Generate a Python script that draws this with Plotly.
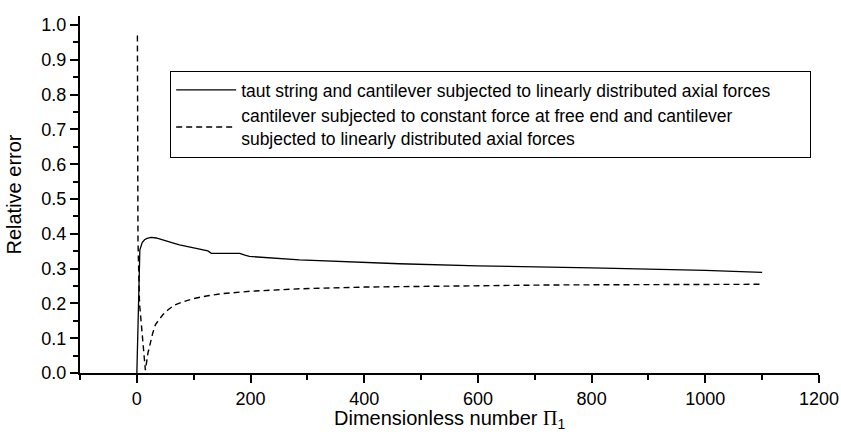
import plotly.graph_objects as go

# Solid curve: taut string vs cantilever (linearly distributed axial forces)
pi_solid = [0, 1, 1.8, 3.5, 5.3, 9.4, 13.5, 18, 25, 34, 46, 57, 63, 75, 87, 104, 119, 125,
            131, 181, 190, 198, 286, 400, 462, 600, 715, 800, 1000, 1100]
err_solid = [0.0, 0.08, 0.153, 0.297, 0.354, 0.375, 0.383, 0.387, 0.390, 0.388, 0.383, 0.378,
             0.374, 0.368, 0.364, 0.358, 0.352, 0.351, 0.344, 0.344, 0.339, 0.335, 0.325,
             0.317, 0.314, 0.308, 0.305, 0.302, 0.295, 0.289]

# Dashed curve: cantilever with constant end force vs linearly distributed axial forces
pi_dash = [1, 1.5, 2, 4.7, 10.5, 13.5, 15, 19.5, 24, 28, 33, 40, 46, 55, 66, 80, 100, 125,
           150, 200, 286, 400, 500, 600, 726, 900, 1100]
err_dash = [0.97, 0.60, 0.38, 0.20, 0.096, 0.02, 0.008, 0.057, 0.09, 0.115, 0.14, 0.157,
            0.168, 0.182, 0.195, 0.204, 0.214, 0.222, 0.228, 0.235, 0.242, 0.247, 0.249,
            0.251, 0.253, 0.254, 0.255]

name_solid = "taut string and cantilever subjected to linearly distributed axial forces" + "&nbsp;" * 7
name_dash = ("cantilever subjected to constant force at free end and cantilever<br>"
             "subjected to linearly distributed axial forces")
x_title = "Dimensionless number <span style='font-family:Liberation Serif'>Π</span><sub>1</sub>"
y_title = "Relative error"

FONT = "Liberation Sans, Arial, sans-serif"

fig = go.Figure()
fig.add_trace(go.Scatter(x=pi_solid, y=err_solid, mode="lines", name=name_solid,
                         line=dict(color="black", width=1.3)))
fig.add_trace(go.Scatter(x=pi_dash, y=err_dash, mode="lines", name=name_dash,
                         line=dict(color="black", width=1.4, dash="6px,4px")))

axis_common = dict(
    showline=True, linecolor="black", linewidth=2,
    ticks="outside", ticklen=8, tickwidth=2, tickcolor="black",
    showgrid=False, zeroline=False, mirror=False, automargin=False,
    tickfont=dict(family=FONT, size=18, color="black"),
)

fig.update_xaxes(
    range=[-100, 1200], tick0=0, dtick=200,
    minor=dict(dtick=100, ticks="outside", ticklen=5, tickwidth=2, tickcolor="black"),
    **axis_common,
)
fig.update_yaxes(
    range=[0, 1.026], tick0=0, dtick=0.1, tickformat=".1f",
    minor=dict(dtick=0.05, ticks="outside", ticklen=5, tickwidth=2, tickcolor="black"),
    title=dict(text=y_title, font=dict(family=FONT, size=20, color="black"), standoff=14),
    **axis_common,
)

fig.add_annotation(text=x_title, xref="paper", yref="paper", x=0.5, y=-0.13,
                   xanchor="center", yanchor="middle", showarrow=False,
                   font=dict(family=FONT, size=20, color="black"))

fig.update_layout(
    width=841, height=436,
    margin=dict(l=80, r=22, t=16, b=63),
    plot_bgcolor="white", paper_bgcolor="white",
    font=dict(family=FONT, color="black"),
    legend=dict(x=0.122, y=0.846, xanchor="left", yanchor="top",
                bgcolor="white", bordercolor="black", borderwidth=1,
                font=dict(family=FONT, size=17.5, color="black"),
                itemwidth=60, tracegroupgap=0),
)

fig.write_html("out.html")
